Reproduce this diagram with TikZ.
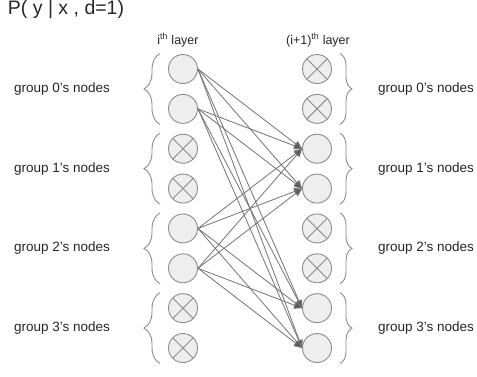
\documentclass[tikz,border=0pt]{standalone}
\usepackage{fontspec}
\setmainfont{Liberation Sans}
\usetikzlibrary{arrows.meta, decorations.pathreplacing}

\definecolor{unitfill}{RGB}{238,238,238}
\definecolor{unitline}{RGB}{140,140,140}
\definecolor{linkline}{RGB}{115,115,115}

\tikzset{
	unit/.style={circle, draw=unitline, fill=unitfill, line width=0.9pt, minimum size=29pt, inner sep=0pt},
	offunit/.style={unit, path picture={
		\draw[unitline, line width=0.9pt] (path picture bounding box.north west) -- (path picture bounding box.south east);
		\draw[unitline, line width=0.9pt] (path picture bounding box.north east) -- (path picture bounding box.south west);}},
	link/.style={draw=linkline, line width=0.8pt, -{Triangle[length=8pt, width=7pt, fill=black!65]}},
	lbrace/.style={draw=unitline, line width=0.9pt, decorate, decoration={brace, amplitude=16pt}},
	rbrace/.style={draw=unitline, line width=0.9pt, decorate, decoration={brace, amplitude=12pt}},
	grouplabel/.style={font=\fontsize{13.5}{15}\selectfont, text=black!85}
}

\begin{document}
\begin{tikzpicture}[x=1pt, y=-1pt]
		\useasboundingbox (0,0) rectangle (477,376);
		\node[font=\fontsize{19.5}{22}\selectfont, text=black!85] (title) at (66,9) {P( y | x , d=1)};
		\node[font=\fontsize{12.5}{14}\selectfont, text=black!85] (ilayer) at (178,40) {i\textsuperscript{th} layer};
		\node[font=\fontsize{12.5}{14}\selectfont, text=black!85] (jlayer) at (318,40) {(i+1)\textsuperscript{th} layer};
		% the two layers of units
		\foreach \i/\ls/\rs in {1/unit/offunit, 2/unit/offunit, 3/offunit/unit, 4/offunit/unit, 5/unit/offunit, 6/unit/offunit, 7/offunit/unit, 8/offunit/unit} {
			\pgfmathsetmacro\y{29.14+39.86*\i}
			\node[\ls] (L\i) at (183,\y) {};
			\node[\rs] (R\i) at (317,\y) {};
		}
		% braces and group names
		\foreach \g in {0, 1, 2, 3} {
			\pgfmathtruncatemacro\a{2*\g+1}
			\pgfmathtruncatemacro\b{2*\g+2}
			\pgfmathsetmacro\y{89+79.7*\g}
			\draw[lbrace] ([xshift=-23pt, yshift=-0.5pt]L\b.south) -- ([xshift=-23pt, yshift=0.5pt]L\a.north);
			\draw[rbrace] ([xshift=23pt, yshift=0.5pt]R\a.north) -- ([xshift=23pt, yshift=-0.5pt]R\b.south);
			\node[grouplabel] (lg\g) at (62,\y) {group \g's nodes};
			\node[grouplabel] (rg\g) at (426,\y) {group \g's nodes};
		}
		% connections between the active units
		\foreach \a in {1, 2, 5, 6} {
			\foreach \b in {3, 4, 7, 8} {
				\draw[link] (L\a.east) -- (R\b.west);
			}
		}
	\end{tikzpicture}
\end{document}
